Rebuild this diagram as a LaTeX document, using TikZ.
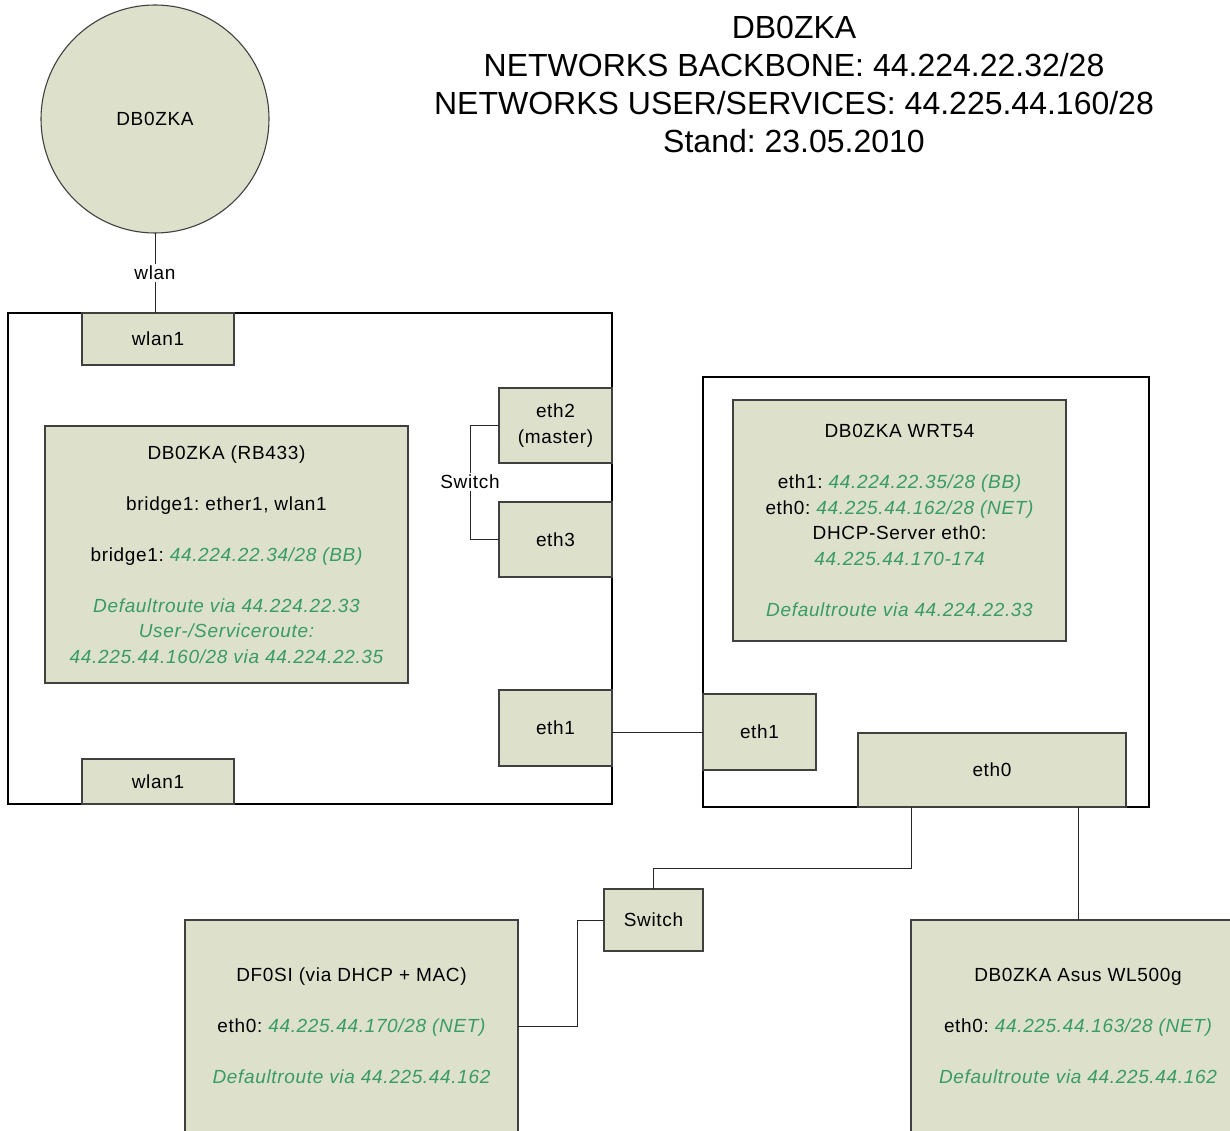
\documentclass[tikz,border=0pt]{standalone}
\usepackage{fontspec}
\setmainfont{Liberation Sans}
\newfontfamily\labelfont{Liberation Sans}[LetterSpace=3.5]
\frenchspacing
\usetikzlibrary{calc}
\definecolor{boxfill}{RGB}{221,224,203}
\definecolor{boxline}{RGB}{64,64,64}
\definecolor{ipgreen}{RGB}{56,156,100}
\newcommand{\gip}[1]{\textcolor{ipgreen}{\itshape #1}}
\begin{document}
\begin{tikzpicture}[x=1pt,y=-1pt,
  every node/.style={inner sep=0pt,outer sep=0pt,
    font=\labelfont\fontsize{19}{25.5}\selectfont\frenchspacing},
  container/.style={draw=black,line width=2pt,minimum width=#1},
  box/.style={draw=boxline,line width=1.1pt,fill=boxfill,align=center},
  wire/.style={draw=black!85,line width=1pt},
  lbl/.style={fill=white,inner sep=2pt}]
\useasboundingbox[fill=white] (0,0) rectangle (1230,1131);

% heading
\node[align=center,font=\rmfamily\fontsize{32}{38}\selectfont\frenchspacing] (title) at (794,84)
  {DB0ZKA\\NETWORKS BACKBONE: 44.224.22.32/28\\NETWORKS USER/SERVICES: 44.225.44.160/28\\Stand: 23.05.2010};

% access point
\node[circle,box,minimum size=228pt] (ap) at (155,119) {DB0ZKA};

% RB433 enclosure
\node[container=604pt,minimum height=491pt] (rb) at (310,558.5) {};
% WRT54 enclosure
\node[container=446pt,minimum height=430pt] (wrt) at (926,592) {};

% RB433 ports and settings
\node[box,minimum width=152pt,minimum height=52pt] (wlantop) at (158,339) {wlan1};
\node[box,minimum width=152pt,minimum height=45pt] (wlanbot) at (158,781.5) {wlan1};
\node[box,minimum width=113pt,minimum height=75pt] (eth2) at (555.5,425.5) {eth2\\(master)};
\node[box,minimum width=113pt,minimum height=75pt] (eth3) at (555.5,539.5) {eth3};
\node[box,minimum width=113pt,minimum height=76pt] (eth1l) at (555.5,728) {eth1};
\node[box,minimum width=363pt,minimum height=257pt] (rbcfg) at (226.5,554.5)
  {DB0ZKA (RB433)\\[25.5pt]
   bridge1: ether1, wlan1\\[25.5pt]
   bridge1: \gip{44.224.22.34/28 (BB)}\\[25.5pt]
   \gip{Defaultroute via 44.224.22.33}\\
   \gip{User-/Serviceroute:}\\
   \gip{44.225.44.160/28 via 44.224.22.35}};

% WRT54 ports and settings
\node[box,minimum width=113pt,minimum height=76pt] (eth1r) at (759.5,732) {eth1};
\node[box,minimum width=268pt,minimum height=74pt] (eth0) at (992,770) {eth0};
\node[box,minimum width=333pt,minimum height=241pt] (wrtcfg) at (899.5,520.5)
  {DB0ZKA WRT54\\[25.5pt]
   eth1: \gip{44.224.22.35/28 (BB)}\\
   eth0: \gip{44.225.44.162/28 (NET)}\\
   DHCP-Server eth0:\\
   \gip{44.225.44.170-174}\\[25.5pt]
   \gip{Defaultroute via 44.224.22.33}};

% downstream devices
\node[box,minimum width=99pt,minimum height=62pt] (sw) at (653.5,920) {Switch};
\node[box,minimum width=333pt,minimum height=212pt] (df) at (351.5,1026)
  {DF0SI (via DHCP + MAC)\\[25.5pt]
   eth0: \gip{44.225.44.170/28 (NET)}\\[25.5pt]
   \gip{Defaultroute via 44.225.44.162}};
\node[box,minimum width=334pt,minimum height=212pt] (asus) at (1078,1026)
  {DB0ZKA Asus WL500g\\[25.5pt]
   eth0: \gip{44.225.44.163/28 (NET)}\\[25.5pt]
   \gip{Defaultroute via 44.225.44.162}};

% wireless link
\node[lbl] (wlanlbl) at (155,273) {wlan};
\path[wire] (ap.south) -- (wlanlbl.north);
\path[wire] (wlanlbl.south) -- (wlanlbl.south |- wlantop.north);

% internal switch between eth2 and eth3
\node[lbl] (swlbl) at (470,482) {Switch};
\path[wire] (eth2.west) -| (swlbl.north);
\path[wire] (swlbl.south) |- (eth3.west);

% backbone link eth1 -- eth1
\path[wire] (eth1l.east |- eth1r.west) -- (eth1r.west);

% eth0 to switch and Asus
\coordinate (j1) at (911,868);
\coordinate (j2) at (577,1026);
\path[wire] (eth0.south -| j1) -- (j1) -| (sw.north);
\path[wire] (sw.west) -| (j2) -- (df.east);
\path[wire] (asus.north |- eth0.south) -- (asus.north);
\end{tikzpicture}
\end{document}
